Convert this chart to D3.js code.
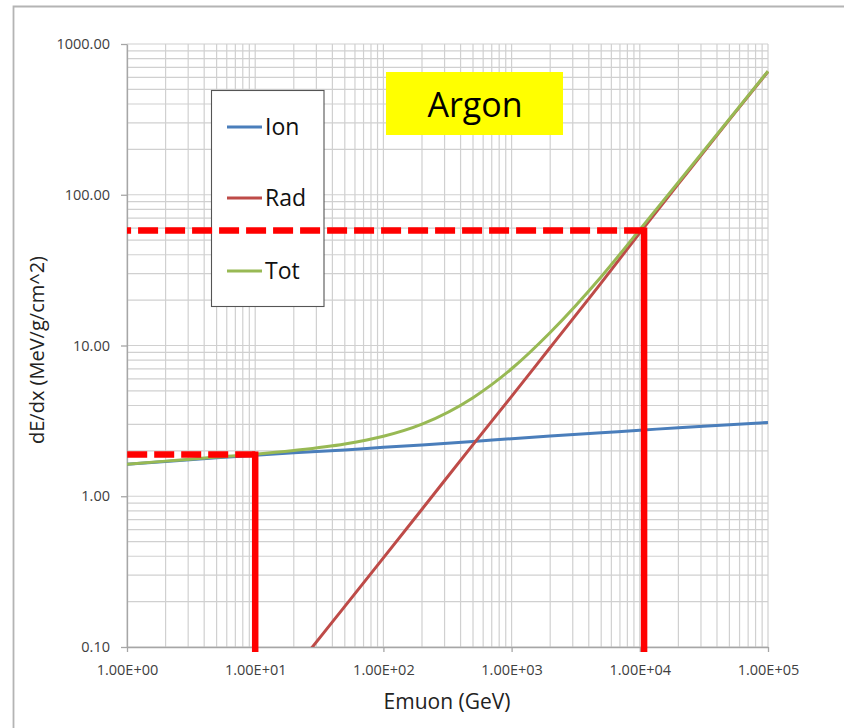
<!DOCTYPE html>
<html>
<head>
<meta charset="utf-8">
<script src="https://cdn.jsdelivr.net/npm/d3@7"></script>
<style>
  html, body { margin: 0; padding: 0; background: #fff; }
  svg { display: block; font-family: "Open Sans", "Noto Sans", sans-serif; }
</style>
</head>
<body>
<svg id="chart" width="844" height="728"></svg>
<script>
// Muon energy (GeV) and stopping power in argon (MeV/g/cm^2)
const energy = [1, 2, 5, 10, 20, 50, 100, 200, 500, 1000, 2000, 5000, 10000, 20000, 50000, 100000];
const ionLoss = [1.63, 1.70, 1.80, 1.87, 1.94, 2.03, 2.11, 2.19, 2.31, 2.41, 2.51, 2.64, 2.74, 2.85, 2.98, 3.09];
const radLoss = [0.0028, 0.0059, 0.016, 0.033, 0.070, 0.186, 0.39, 0.82, 2.2, 4.6, 9.7, 26, 56, 118, 315, 657];
const totLoss = [1.63, 1.71, 1.82, 1.90, 2.01, 2.22, 2.50, 3.01, 4.51, 7.01, 12.2, 28.6, 58.7, 121, 318, 660];

const seriesNames = ["Ion", "Rad", "Tot"];
const seriesColors = ["#4a7ebb", "#be4b48", "#98b954"];

// Axis ticks
const xTicks = [1, 10, 100, 1000, 10000, 100000];
const xTickLabels = ["1.00E+00", "1.00E+01", "1.00E+02", "1.00E+03", "1.00E+04", "1.00E+05"];
const yTicks = [0.1, 1, 10, 100, 1000];
const yTickLabels = ["0.10", "1.00", "10.00", "100.00", "1000.00"];

// Reference markers: energy and dE/dx
const markerEnergy = [10, 10800];
const markerValue = [1.89, 58];

const svg = d3.select("#chart");
const plotLeft = 127, plotRight = 768, plotTop = 44, plotBottom = 647;

const x = d3.scaleLog().domain([1, 1e5]).range([plotLeft, plotRight]);
const y = d3.scaleLog().domain([0.1, 1000]).range([plotBottom, plotTop]);

// outer frame
svg.append("path")
  .attr("d", `M13.5,740 L13.5,6.5 L850,6.5`)
  .attr("fill", "none").attr("stroke", "#b4b4b4").attr("stroke-width", 1.8);

// minor + major grid
const grid = svg.append("g").attr("stroke", "#d0d0d0").attr("stroke-width", 1.2);
const xGridVals = [];
for (let d = 1; d < 1e5; d *= 10) for (let k = 1; k <= 9; k++) xGridVals.push(d * k);
xGridVals.push(1e5);
const yGridVals = [];
for (let d = 0.1; d < 999; d *= 10) for (let k = 1; k <= 9; k++) yGridVals.push(d * k);
yGridVals.push(1000);
grid.selectAll("line.vx").data(xGridVals).join("line")
  .attr("class", "vx")
  .attr("x1", d => x(d)).attr("x2", d => x(d)).attr("y1", plotTop).attr("y2", plotBottom);
grid.selectAll("line.hy").data(yGridVals).join("line")
  .attr("class", "hy")
  .attr("y1", d => y(d)).attr("y2", d => y(d)).attr("x1", plotLeft).attr("x2", plotRight);

// axes
const xAxis = d3.axisBottom(x).tickValues(xTicks)
  .tickFormat((d, i) => xTickLabels[i]).tickSize(5).tickSizeOuter(0).tickPadding(13);
const yAxis = d3.axisLeft(y).tickValues(yTicks)
  .tickFormat((d, i) => yTickLabels[i]).tickSize(6).tickSizeOuter(0).tickPadding(11);

const gx = svg.append("g").attr("transform", `translate(0,${plotBottom})`).call(xAxis);
const gy = svg.append("g").attr("transform", `translate(${plotLeft},0)`).call(yAxis);
[gx, gy].forEach(g => {
  g.select(".domain").attr("stroke", "#a6a6a6").attr("stroke-width", 1.3);
  g.selectAll(".tick line").attr("stroke", "#a6a6a6").attr("stroke-width", 1.3);
  g.selectAll(".tick text").attr("fill", "#404040")
    .style("font-family", "'Open Sans', sans-serif").style("font-size", "14.5px");
});

// axis titles
svg.append("text").attr("x", 447).attr("y", 709).attr("text-anchor", "middle")
  .style("font-size", "21px").attr("fill", "#222").text("Emuon (GeV)");
svg.append("text").attr("transform", "translate(44,350) rotate(-90)").attr("text-anchor", "middle")
  .style("font-size", "20px").attr("fill", "#222").text("dE/dx (MeV/g/cm^2)");

// clip to plot area
svg.append("clipPath").attr("id", "plotClip").append("rect")
  .attr("x", plotLeft).attr("y", plotTop - 2)
  .attr("width", plotRight - plotLeft + 2).attr("height", plotBottom - plotTop + 2);

const line = d3.line().x(d => x(d.e)).y(d => y(d.v)).curve(d3.curveMonotoneX);
const seriesValues = [ionLoss, radLoss, totLoss];
const plot = svg.append("g").attr("clip-path", "url(#plotClip)");
seriesValues.forEach((vals, i) => {
  plot.append("path")
    .datum(energy.map((e, j) => ({ e, v: vals[j] })))
    .attr("d", line).attr("fill", "none")
    .attr("stroke", seriesColors[i]).attr("stroke-width", 3)
    .attr("stroke-linejoin", "round");
});

// legend
const legend = svg.append("g");
legend.append("rect").attr("x", 211.5).attr("y", 90.5).attr("width", 112.5).attr("height", 216)
  .attr("fill", "#fff").attr("stroke", "#555").attr("stroke-width", 1.1);
const legendY = [127, 198, 271];
seriesNames.forEach((name, i) => {
  legend.append("line").attr("x1", 227).attr("x2", 262).attr("y1", legendY[i]).attr("y2", legendY[i])
    .attr("stroke", seriesColors[i]).attr("stroke-width", 3);
  legend.append("text").attr("x", 265).attr("y", legendY[i]).attr("dy", "0.36em")
    .style("font-size", "23px").attr("fill", "#111").text(name);
});

// title box
svg.append("rect").attr("x", 386).attr("y", 72).attr("width", 177).attr("height", 63).attr("fill", "#ffff00");
svg.append("text").attr("x", 475).attr("y", 117).attr("text-anchor", "middle")
  .style("font-size", "34px").attr("fill", "#000").text("Argon");

// reference markers: dashed to the y axis, solid down to the x axis
markerEnergy.forEach((e, i) => {
  const mx = x(e), my = y(markerValue[i]);
  svg.append("line").attr("x1", mx).attr("x2", plotLeft).attr("y1", my).attr("y2", my)
    .attr("stroke", "#ff0000").attr("stroke-width", 6.5).attr("stroke-dasharray", "20,7");
  svg.append("line").attr("x1", mx).attr("x2", mx).attr("y1", my - 3).attr("y2", plotBottom + 5)
    .attr("stroke", "#ff0000").attr("stroke-width", 6.5);
});
</script>
</body>
</html>
